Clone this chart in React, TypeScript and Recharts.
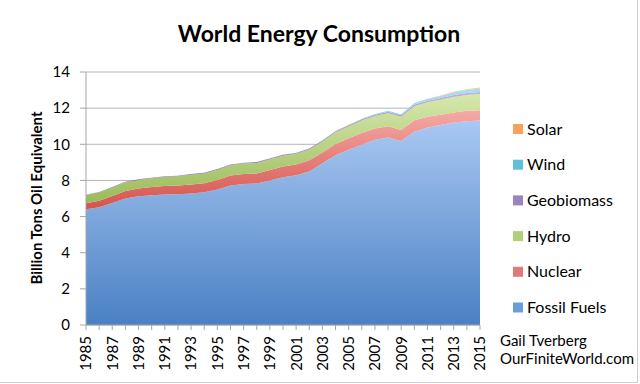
import React from 'react';
import { AreaChart, Area, XAxis, YAxis, CartesianGrid } from 'recharts';

const years = ['1985','1986','1987','1988','1989','1990','1991','1992','1993','1994','1995','1996','1997','1998','1999','2000','2001','2002','2003','2004','2005','2006','2007','2008','2009','2010','2011','2012','2013','2014','2015'];
const fossil = [6.40,6.52,6.75,7.00,7.12,7.18,7.22,7.24,7.28,7.34,7.50,7.72,7.80,7.83,8.00,8.18,8.28,8.50,8.95,9.40,9.70,9.98,10.25,10.38,10.18,10.70,10.93,11.07,11.20,11.28,11.31];
const nuclear = [0.34,0.36,0.39,0.42,0.43,0.45,0.47,0.48,0.50,0.51,0.53,0.55,0.55,0.56,0.58,0.59,0.60,0.61,0.60,0.62,0.63,0.64,0.62,0.62,0.61,0.63,0.60,0.56,0.56,0.57,0.58];
const hydro = [0.45,0.46,0.47,0.48,0.48,0.49,0.51,0.51,0.53,0.54,0.56,0.57,0.58,0.58,0.59,0.60,0.59,0.60,0.60,0.64,0.66,0.69,0.70,0.72,0.73,0.78,0.79,0.83,0.86,0.88,0.89];
const geobiomass = [0.02,0.02,0.02,0.03,0.03,0.03,0.03,0.03,0.04,0.04,0.04,0.04,0.04,0.05,0.05,0.05,0.05,0.05,0.06,0.06,0.06,0.07,0.07,0.08,0.08,0.09,0.09,0.10,0.11,0.11,0.12];
const wind = [0,0,0,0,0,0,0,0,0,0,0.001,0.002,0.002,0.003,0.005,0.007,0.009,0.012,0.015,0.019,0.024,0.030,0.039,0.050,0.063,0.078,0.099,0.118,0.143,0.160,0.190];
const solar = [0,0,0,0,0,0,0,0,0,0,0,0,0,0,0,0,0,0,0,0,0.001,0.001,0.002,0.003,0.005,0.007,0.015,0.022,0.029,0.042,0.058];
const yTicks = [0,2,4,6,8,10,12,14];

const data = years.map((y, i) => ({
  year: y,
  fossil: fossil[i],
  nuclear: nuclear[i],
  hydro: hydro[i],
  geobiomass: geobiomass[i],
  wind: wind[i],
  solar: solar[i],
}));

const series = [
  { key: 'solar', name: 'Solar', light: '#fcc394', dark: '#f79646', legend: '#f8a05c' },
  { key: 'wind', name: 'Wind', light: '#a8e0f0', dark: '#4bacc6', legend: '#5fc0da' },
  { key: 'geobiomass', name: 'Geobiomass', light: '#c2b2dc', dark: '#8064a2', legend: '#9a84c0' },
  { key: 'hydro', name: 'Hydro', light: '#d6e8ac', dark: '#9bbb59', legend: '#aed17a' },
  { key: 'nuclear', name: 'Nuclear', light: '#f6aaa6', dark: '#d4534e', legend: '#e07a76' },
  { key: 'fossil', name: 'Fossil Fuels', light: '#a9c8f2', dark: '#4a80c4', legend: '#6a9ddd' },
];

const FONT = 'Lato, "Open Sans", sans-serif';

const XTick = (props: any) => {
  const { x, y, payload, index } = props;
  if (index % 2 !== 0) return null;
  return (
    <text x={x} y={y} transform={`rotate(-90, ${x}, ${y})`} textAnchor="end" dy="0.36em"
      fontSize={15} fill="#000" fontFamily={FONT}>{payload.value}</text>
  );
};

export default function App() {
  const stackOrder = [...series].reverse();
  return (
    <div style={{ position: 'absolute', left: 0, top: 0, width: 640, height: 384, background: '#fff', fontFamily: FONT }}>
      <AreaChart width={640} height={384} data={data} margin={{ top: 72, right: 160, bottom: 0, left: 0 }}>
        <defs>
          {series.map(s => (
            <linearGradient key={s.key} id={`g-${s.key}`} x1="0" y1="0" x2="0" y2="1">
              <stop offset="0%" stopColor={s.light} />
              <stop offset="100%" stopColor={s.dark} />
            </linearGradient>
          ))}
        </defs>
        <CartesianGrid vertical={false} stroke="#b5b5b5" />
        <XAxis dataKey="year" interval={0} height={59} tickSize={5} tickMargin={6}
          stroke="#a6a6a6" tick={<XTick />} />
        <YAxis width={86} domain={[0, 14]} ticks={yTicks} tickSize={6} tickMargin={10}
          stroke="#a6a6a6" tick={{ fontSize: 15, fill: '#000', fontFamily: FONT }} />
        {stackOrder.map(s => (
          <Area key={s.key} type="linear" dataKey={s.key} name={s.name} stackId="1"
            stroke="none" fill={`url(#g-${s.key})`} fillOpacity={1} isAnimationActive={false} />
        ))}
      </AreaChart>
      <svg style={{ position: 'absolute', left: 0, top: 0 }} width={640} height={384}>
        <text x={319} y={42} textAnchor="middle" fontSize={23} fontWeight={700} fontFamily={FONT} fill="#000">World Energy Consumption</text>
        <text x={37} y={198} transform="rotate(-90, 37, 198)" textAnchor="middle" dy="0.35em"
          fontSize={15} fontWeight={700} fontFamily={FONT} fill="#000">Billion Tons Oil Equivalent</text>
        {series.map((s, i) => (
          <g key={s.key}>
            <rect x={513} y={124 + i * 35.7} width={10} height={10} fill={s.legend} />
            <text x={527} y={129 + i * 35.7} dy="0.35em" fontSize={16} fontFamily={FONT} fill="#000">{s.name}</text>
          </g>
        ))}
        <text x={500} y={341} dy="0.35em" fontSize={15} fontFamily={FONT} fill="#000">Gail Tverberg</text>
        <text x={500} y={359} dy="0.35em" fontSize={15} fontFamily={FONT} fill="#000">OurFiniteWorld.com</text>
        <line x1={637.5} y1={0} x2={637.5} y2={383} stroke="#d0d0d0" />
        <line x1={0} y1={382.5} x2={638} y2={382.5} stroke="#d0d0d0" />
      </svg>
    </div>
  );
}
